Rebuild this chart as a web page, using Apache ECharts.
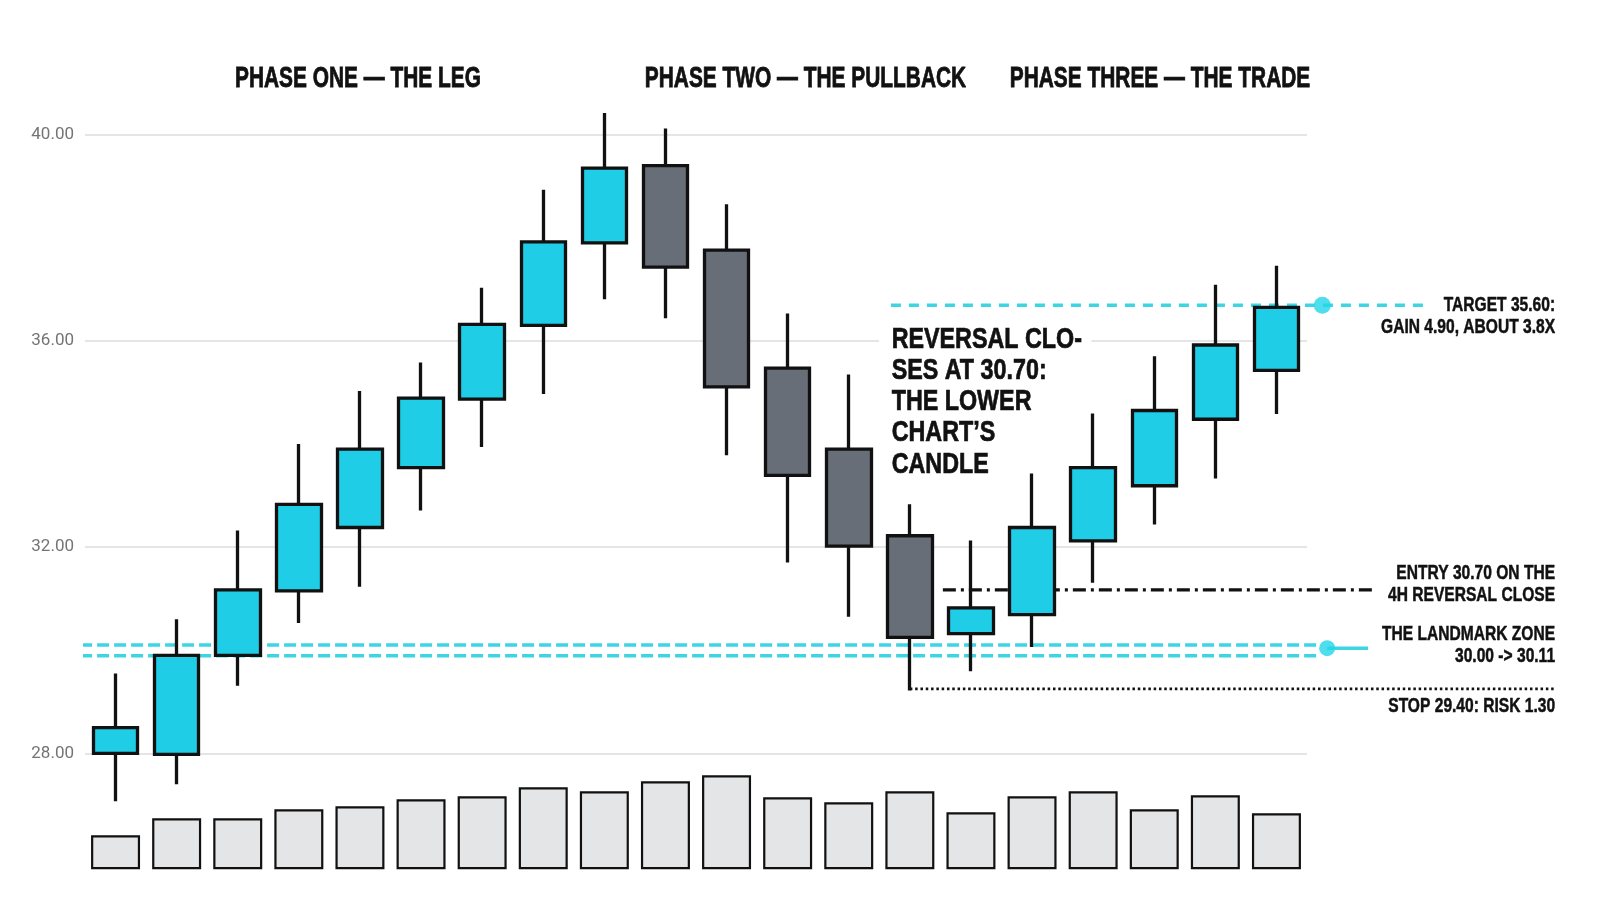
<!DOCTYPE html>
<html>
<head>
<meta charset="utf-8">
<script src="https://cdn.jsdelivr.net/npm/echarts@6/dist/echarts.min.js"></script>
<style>
html, body { margin: 0; padding: 0; background: #fff; }
#main { width: 1600px; height: 914px; }
</style>
</head>
<body>
<div id="main"></div>
<script>
// candles
var categories = ['1','2','3','4','5','6','7','8','9','10','11','12','13','14','15','16','17','18','19','20'];
var opens  = [28.00, 27.98, 29.90, 31.15, 32.38, 33.54, 34.87, 36.30, 37.90, 39.40, 37.76, 35.47, 33.90, 32.22, 30.32, 30.69, 32.12, 33.19, 34.48, 35.43];
var closes = [28.50, 29.90, 31.17, 32.83, 33.90, 34.89, 36.32, 37.92, 39.35, 37.43, 35.11, 33.39, 32.02, 30.25, 30.82, 32.38, 33.54, 34.65, 35.92, 36.65];
var lows   = [27.07, 27.40, 29.31, 30.53, 31.23, 32.71, 33.94, 34.97, 36.81, 36.44, 33.78, 31.70, 30.65, 29.22, 29.59, 30.06, 31.31, 32.44, 33.33, 34.58];
var highs  = [29.55, 30.60, 32.32, 34.00, 35.03, 35.58, 37.03, 38.93, 40.42, 40.12, 38.65, 36.53, 35.35, 32.83, 32.13, 33.43, 34.59, 35.70, 37.09, 37.46];
var volumes = [34, 51, 51, 60, 63, 70, 73, 82, 78, 88, 94, 72, 67, 78, 57, 73, 78, 60, 74, 56];

var yTicks = [28, 32, 36, 40];

var phaseTitles = ['PHASE ONE \u2014 THE LEG', 'PHASE TWO \u2014 THE PULLBACK', 'PHASE THREE \u2014 THE TRADE'];

// trade levels, where the lines sit in the picture
var targetLevel = 36.69;
var entryLevel = 31.17;
var zoneTop = 30.10;
var zoneBottom = 29.89;
var zoneMarker = 30.04;
var stopLevel = 29.25;

var targetText = 'TARGET 35.60:\nGAIN 4.90, ABOUT 3.8X';
var entryText = 'ENTRY 30.70 ON THE\n4H REVERSAL CLOSE';
var zoneText = 'THE LANDMARK ZONE\n30.00 -> 30.11';
var stopText = 'STOP 29.40: RISK 1.30';
var reversalText = 'REVERSAL CLO-\nSES AT 30.70:\nTHE LOWER\nCHART\u2019S\nCANDLE';

var CYAN = '#1fcde6';
var LINE_CYAN = '#3dd5e3';
var INK = '#111';
var SANS = '"Liberation Sans", Arial, sans-serif';

var candles = categories.map(function (c, i) {
  return [opens[i], closes[i], lows[i], highs[i]];
});

// the overlay grid counts x in candle slots, but runs on past the plot
var labelX = 23.56;
function flat(x0, x1, y) { return [[x0, y], [x1, y]]; }

function lineSeries(data, style) {
  return {
    type: 'line', xAxisIndex: 2, yAxisIndex: 2, data: data,
    showSymbol: false, symbol: 'none', silent: true, z: 1,
    lineStyle: style
  };
}

// bold text squeezed sideways to stand in for a condensed face
function narrowText(x, y, text, size, squeeze, weight, extra) {
  var style = {
    text: text, fill: INK, fontFamily: SANS, fontWeight: 'bold', fontSize: size,
    stroke: INK, lineWidth: weight
  };
  for (var k in extra) style[k] = extra[k];
  return { type: 'text', x: x, y: y, scaleX: squeeze, z: 10, style: style };
}

var chart = echarts.init(document.getElementById('main'));

var priceAxis = {
  type: 'value', min: 24, max: 44, interval: 4,
  axisLine: { show: false }, axisTick: { show: false },
  splitLine: { lineStyle: { color: '#dddddd', width: 1.5 } },
  axisLabel: {
    margin: 11, color: '#747474', fontSize: 17,
    fontFamily: 'Roboto, "Liberation Sans", sans-serif',
    formatter: function (v) { return yTicks.indexOf(v) >= 0 ? v.toFixed(2) : ''; }
  }
};

chart.setOption({
  backgroundColor: '#fff',
  animation: false,
  grid: [
    { left: 85, width: 1222, top: -71.5, height: 1031, outerBoundsMode: 'none' },
    { left: 85, width: 1222, bottom: 44.7, height: 100, outerBoundsMode: 'none' },
    { left: 85, right: 0, top: -71.5, height: 1031, outerBoundsMode: 'none' }
  ],
  xAxis: [
    { type: 'category', gridIndex: 0, data: categories, boundaryGap: true, show: false },
    { type: 'category', gridIndex: 1, data: categories, boundaryGap: true, show: false },
    { type: 'value', gridIndex: 2, min: -0.5, max: 24.295, show: false }
  ],
  yAxis: [
    Object.assign({ gridIndex: 0 }, priceAxis),
    { type: 'value', gridIndex: 1, min: 0, max: 100, show: false },
    { type: 'value', gridIndex: 2, min: 24, max: 44, show: false }
  ],
  series: [
    lineSeries(flat(-0.58, 19.68, zoneTop), { color: LINE_CYAN, width: 3.5, type: [12, 5] }),
    lineSeries(flat(-0.58, 19.68, zoneBottom), { color: LINE_CYAN, width: 3.5, type: [12, 5] }),
    lineSeries(flat(19.83, 20.50, zoneMarker), { color: LINE_CYAN, width: 3.5 }),
    lineSeries(flat(12.69, 21.46, targetLevel), { color: LINE_CYAN, width: 3.5, type: [10, 8] }),
    lineSeries(flat(13.54, 20.61, entryLevel), { color: INK, width: 3.2, type: [13, 5, 3, 5] }),
    lineSeries(flat(13.0, 23.56, stopLevel), { color: INK, width: 2.6, type: [2.5, 2.8] }),
    {
      type: 'scatter', xAxisIndex: 2, yAxisIndex: 2, silent: true, z: 4,
      symbol: 'circle',
      itemStyle: { color: '#22d6ea' },
      data: [
        { value: [19.75, targetLevel], symbolSize: 17 },
        { value: [19.83, zoneMarker], symbolSize: 16 }
      ]
    },
    {
      type: 'candlestick', xAxisIndex: 0, yAxisIndex: 0, data: candles,
      barWidth: 45, z: 3,
      itemStyle: {
        color: CYAN, color0: '#686e77',
        borderColor: INK, borderColor0: INK, borderWidth: 3.3
      }
    },
    {
      type: 'bar', xAxisIndex: 1, yAxisIndex: 1, data: volumes,
      barWidth: 49,
      itemStyle: { color: '#e4e5e7', borderColor: INK, borderWidth: 2.2 }
    }
  ]
});

// labels that belong to a price level are placed from the overlay axes
function at(level) {
  return chart.convertToPixel({ xAxisIndex: 2, yAxisIndex: 2 }, [labelX, level]);
}
var side = [
  [targetLevel, targetText, 11.3],
  [entryLevel, entryText, -5.5],
  [zoneMarker, zoneText, -3],
  [stopLevel, stopText, 17]
].map(function (row) {
  var p = at(row[0]);
  return narrowText(p[0], p[1] + row[2], row[1], 20.5, 0.76, 0.5,
    { align: 'right', verticalAlign: 'middle', lineHeight: 22 });
});

var titleY = 78.7;
var heads = [
  narrowText(358, titleY, phaseTitles[0], 29, 0.72, 0.8, { align: 'center', verticalAlign: 'middle' }),
  narrowText(805.5, titleY, phaseTitles[1], 29, 0.72, 0.8, { align: 'center', verticalAlign: 'middle' }),
  narrowText(1160, titleY, phaseTitles[2], 29, 0.72, 0.8, { align: 'center', verticalAlign: 'middle' })
];

var note = narrowText(879, 316, reversalText, 29.5, 0.79, 0.7, {
  lineHeight: 31.2, backgroundColor: '#fff', padding: [8, 12, 8, 16]
});
note.z = 2;

chart.setOption({ graphic: heads.concat(side, [note]) });
</script>
</body>
</html>
